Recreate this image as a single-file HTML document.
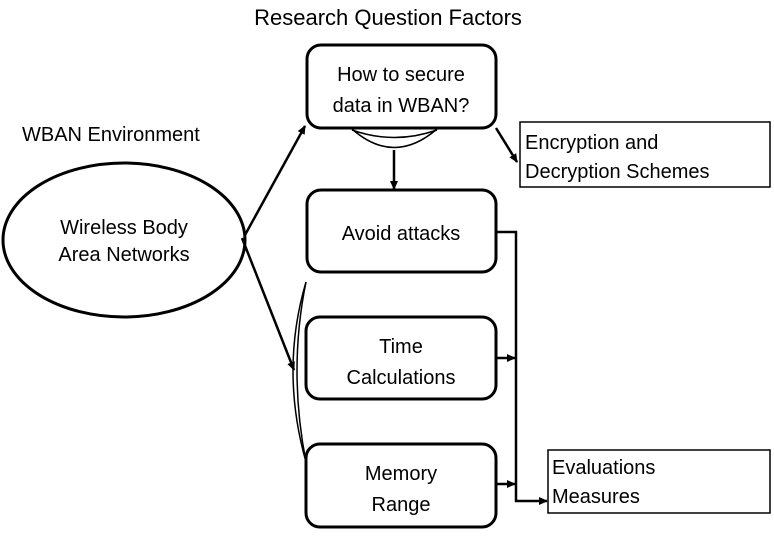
<!DOCTYPE html>
<html><head><style>
body{margin:0;background:#fff;}
</style></head><body>
<svg width="774" height="531" viewBox="0 0 774 531" xmlns="http://www.w3.org/2000/svg" font-family="Liberation Sans, Arial, Helvetica, sans-serif">
<defs><marker id="a" markerWidth="10" markerHeight="10" refX="8" refY="5" orient="auto" markerUnits="userSpaceOnUse"><path d="M0,1 L9,5 L0,9 z" fill="#000"/></marker></defs>
<g fill="none" stroke="#000" stroke-width="3">
<ellipse cx="124" cy="240" rx="121" ry="77"/>
<rect x="307" y="45" width="189" height="83" rx="14"/>
<rect x="307" y="190" width="189" height="82" rx="14"/>
<rect x="306" y="317" width="190" height="82" rx="14"/>
<rect x="306" y="444" width="190" height="83" rx="14"/>
</g>
<g fill="none" stroke="#000" stroke-width="1.5">
<rect x="520" y="122" width="250" height="65"/>
<rect x="548" y="450" width="222" height="63"/>
<path d="M352,129 Q394,166 437,129"/>
<path d="M352,130 Q394,145 437,130"/>
<path d="M306,282 Q280,370 306,462"/>
<path d="M306,282 Q288,370 306,462"/>
</g>
<g fill="none" stroke="#000" stroke-width="2.5">
<line x1="245" y1="235" x2="305" y2="126" marker-end="url(#a)"/>
<line x1="242" y1="238" x2="294" y2="370" marker-end="url(#a)"/>
<line x1="496" y1="128" x2="517" y2="162" marker-end="url(#a)"/>
<line x1="394" y1="150" x2="394" y2="189" marker-end="url(#a)"/>
<polyline points="496,232 516,232 516,501 547,501" marker-end="url(#a)"/>
<line x1="496" y1="358" x2="515" y2="358" marker-end="url(#a)"/>
<line x1="496" y1="484" x2="515" y2="484" marker-end="url(#a)"/>
</g>
<g font-size="20" fill="#000">
<text x="388" y="25" font-size="22" text-anchor="middle">Research Question Factors</text>
<text x="22" y="141">WBAN Environment</text>
<text x="124" y="234" text-anchor="middle">Wireless Body</text>
<text x="124" y="261" text-anchor="middle">Area Networks</text>
<text x="401" y="81" text-anchor="middle">How to secure</text>
<text x="401" y="112" text-anchor="middle">data in WBAN?</text>
<text x="401" y="240" text-anchor="middle">Avoid attacks</text>
<text x="401" y="353" text-anchor="middle">Time</text>
<text x="401" y="384" text-anchor="middle">Calculations</text>
<text x="401" y="480" text-anchor="middle">Memory</text>
<text x="401" y="511" text-anchor="middle">Range</text>
<text x="525" y="149">Encryption and</text>
<text x="525" y="178">Decryption Schemes</text>
<text x="552" y="474">Evaluations</text>
<text x="552" y="503">Measures</text>
</g>
</svg>
</body></html>
